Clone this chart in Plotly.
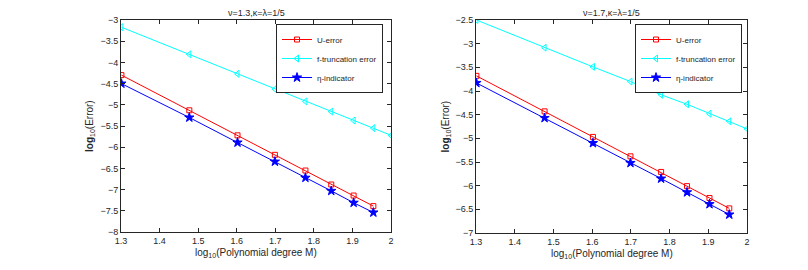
import plotly.graph_objects as go

# x: log10 of polynomial degree M
x_all = [1.30103, 1.47712, 1.60206, 1.69897, 1.77815, 1.84510, 1.90309, 1.95424, 2.0]
x_err = x_all[:8]

# Left panel: nu=1.3
left_u = [-4.30, -5.13, -5.72, -6.18, -6.55, -6.88, -7.14, -7.39]
left_f = [-3.17, -3.81, -4.27, -4.63, -4.92, -5.16, -5.37, -5.55, -5.72]
left_eta = [-4.50, -5.30, -5.89, -6.34, -6.72, -7.03, -7.31, -7.54]

# Right panel: nu=1.7
right_u = [-3.68, -4.43, -4.97, -5.38, -5.71, -6.01, -6.26, -6.48]
right_f = [-2.50, -3.085, -3.49, -3.80, -4.08, -4.28, -4.48, -4.64, -4.80]
right_eta = [-3.83, -4.57, -5.10, -5.52, -5.85, -6.14, -6.39, -6.61]

titles = ["ν=1.3,κ=λ=1/5", "ν=1.7,κ=λ=1/5"]
names = ["U-error", "f-truncation error", "η-indicator"]
x_ticks = [1.3, 1.4, 1.5, 1.6, 1.7, 1.8, 1.9, 2.0]
x_ticklabels = ["1.3", "1.4", "1.5", "1.6", "1.7", "1.8", "1.9", "2"]
left_yticks = [-8, -7.5, -7, -6.5, -6, -5.5, -5, -4.5, -4, -3.5, -3]
right_yticks = [-7, -6.5, -6, -5.5, -5, -4.5, -4, -3.5, -3, -2.5]
xlabel = "log<sub>10</sub>(Polynomial degree M)"
ylabel = "<b>log</b><sub>10</sub>(Error)"

FONT = "Liberation Sans, Arial, sans-serif"
TXT = "#262626"
W, H = 792, 254  # page body has an 8px margin; figure sits at (8, 8)

fig = go.Figure()

styles = [
    dict(color="#ff0000", symbol="square-open", size=5),
    dict(color="#00ffff", symbol="triangle-left-open", size=6),
    dict(color="#0000ff", symbol="star", size=7),
]

panels = [
    ("x", "y", "legend", [left_u, left_f, left_eta]),
    ("x2", "y2", "legend2", [right_u, right_f, right_eta]),
]
for xa, ya, lg, series in panels:
    for name, ys, st in zip(names, series, styles):
        xs = x_all if len(ys) == len(x_all) else x_err
        fig.add_trace(go.Scatter(
            x=xs, y=ys, mode="lines+markers", name=name,
            xaxis=xa, yaxis=ya, legend=lg,
            line=dict(color=st["color"], width=1),
            marker=dict(symbol=st["symbol"], size=st["size"], color=st["color"],
                        line=dict(color=st["color"], width=1)),
        ))

axis_common = dict(
    showline=True, linecolor=TXT, linewidth=1, mirror="ticks",
    ticks="inside", ticklen=4, tickcolor=TXT, showgrid=False, zeroline=False,
    tickfont=dict(size=9, color=TXT, family=FONT), automargin=False,
)

legend_common = dict(xanchor="right", yanchor="top", bgcolor="white",
                     bordercolor=TXT, borderwidth=1, font=dict(size=8, family=FONT, color=TXT),
                     itemwidth=30, tracegroupgap=0)

annotations = []
for i, (xr, yr) in enumerate([("x", "y"), ("x2", "y2")]):
    annotations.append(dict(text=titles[i], xref=f"{xr} domain", yref=f"{yr} domain", x=0.5, y=1,
                            yanchor="bottom", showarrow=False,
                            font=dict(size=9, family=FONT, color=TXT)))
    annotations.append(dict(text=xlabel, xref=f"{xr} domain", yref=f"{yr} domain", x=0.5, y=0,
                            yanchor="top", yshift=-13, showarrow=False,
                            font=dict(size=10, family=FONT, color=TXT)))
    annotations.append(dict(text=ylabel, xref=f"{xr} domain", yref=f"{yr} domain", x=0, y=0.5,
                            xanchor="center", yanchor="middle", xshift=-31, textangle=-90,
                            showarrow=False, font=dict(size=10, family=FONT, color=TXT)))

fig.update_layout(
    width=W, height=H, margin=dict(l=0, r=0, t=0, b=0, autoexpand=False),
    paper_bgcolor="white", plot_bgcolor="white",
    font=dict(family=FONT, size=9, color=TXT),
    xaxis=dict(domain=[113/W, 383/W], range=[1.3, 2.0], tickvals=x_ticks, ticktext=x_ticklabels,
               anchor="y", **axis_common),
    yaxis=dict(domain=[1-224/H, 1-12/H], range=[-8, -3], tickvals=left_yticks,
               anchor="x", **axis_common),
    xaxis2=dict(domain=[468/W, 739/W], range=[1.3, 2.0], tickvals=x_ticks, ticktext=x_ticklabels,
                anchor="y2", **axis_common),
    yaxis2=dict(domain=[1-225/H, 1-12/H], range=[-7, -2.5], tickvals=right_yticks,
                anchor="x2", **axis_common),
    legend=dict(x=375/W, y=1-16/H, **legend_common),
    legend2=dict(x=734/W, y=1-16/H, **legend_common),
    annotations=annotations,
)

fig.write_html("out.html")
